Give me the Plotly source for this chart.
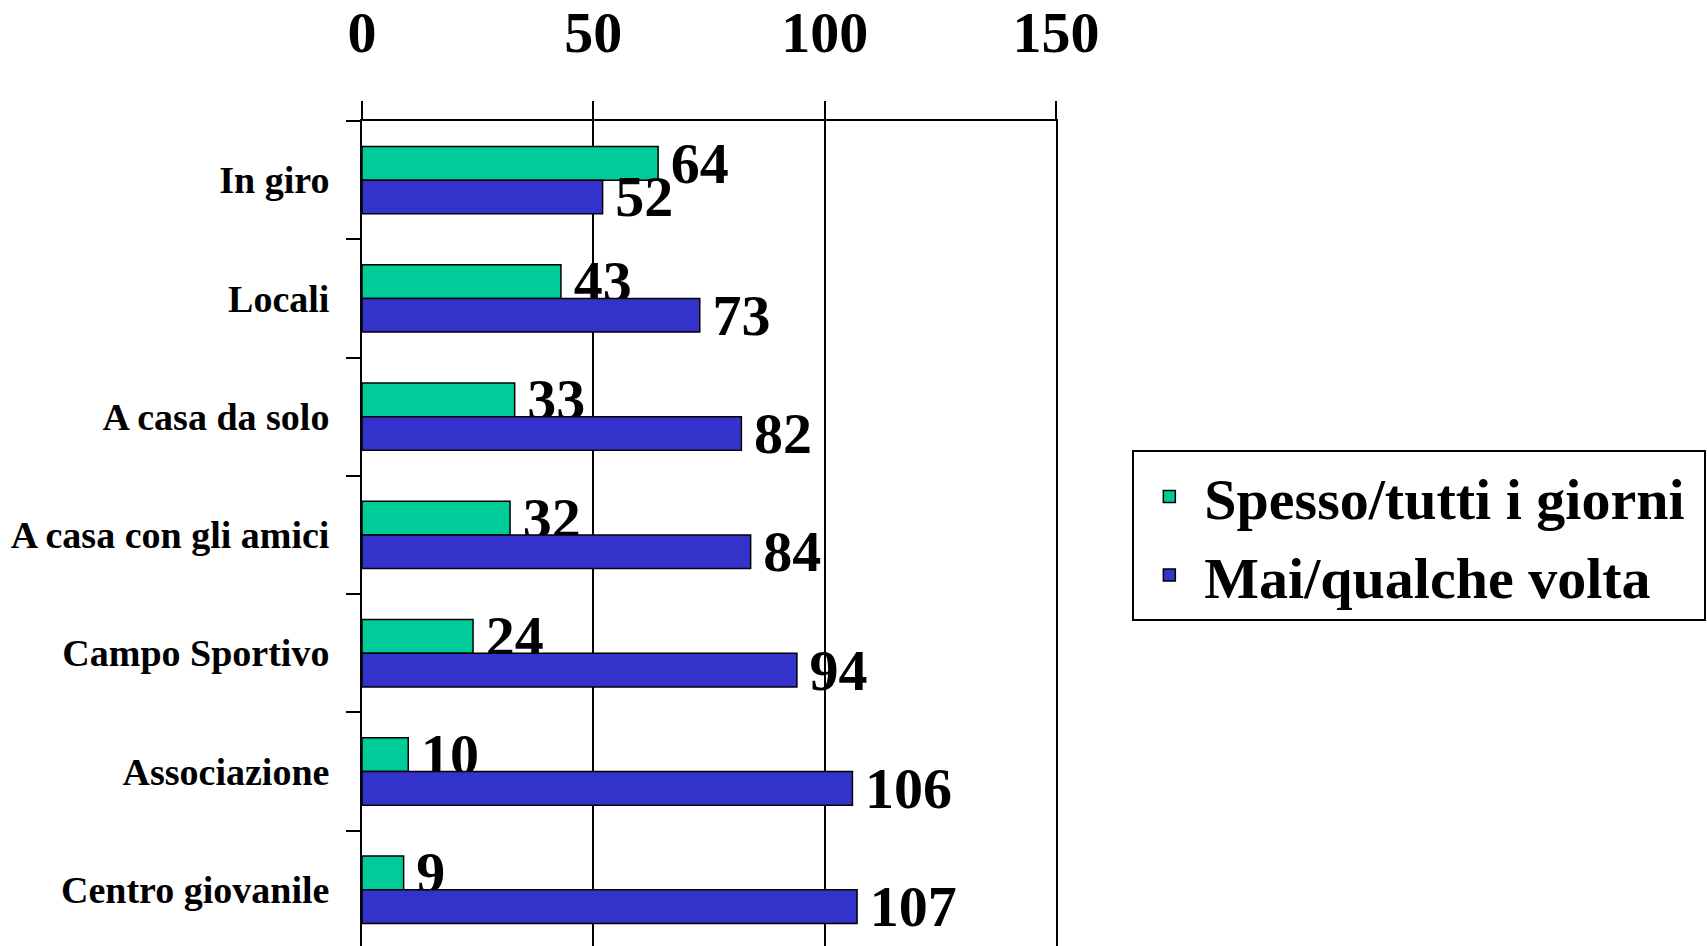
import plotly.graph_objects as go

categories = ["In giro", "Locali", "A casa da solo", "A casa con gli amici",
              "Campo Sportivo", "Associazione", "Centro giovanile"]
spesso = [64, 43, 33, 32, 24, 10, 9]
mai = [52, 73, 82, 84, 94, 106, 107]
series_names = ["Spesso/tutti i giorni", "Mai/qualche volta"]
x_ticks = [0, 50, 100, 150]

FONT = "Liberation Serif"
GREEN = "#00CC99"
BLUE = "#3333CC"

fig = go.Figure()
for name, vals, col in [(series_names[0], spesso, GREEN), (series_names[1], mai, BLUE)]:
    fig.add_trace(go.Bar(
        y=categories, x=vals, name=name + "\u00a0", orientation="h",
        marker=dict(color=col, line=dict(color="black", width=1.5)),
        text=vals, texttemplate="\u200A\u200A%{x}",
        textposition="outside",
        constraintext="none", cliponaxis=False,
        textfont=dict(family=FONT, size=58, color="black", weight="bold"),
    ))

fig.update_layout(
    width=1707, height=946,
    margin=dict(l=362, r=651, t=121, b=0, pad=0),
    plot_bgcolor="white", paper_bgcolor="white",
    barmode="group", bargap=0.43, bargroupgap=0,
    font=dict(family=FONT, color="black"),
    legend=dict(
        x=1.110, y=0.6007, xanchor="left", yanchor="top",
        bgcolor="white", bordercolor="black", borderwidth=2,
        font=dict(family=FONT, size=58, color="black", weight="bold"),
        traceorder="normal", itemwidth=60,
    ),
    xaxis=dict(
        side="top", range=[0, 150], tickvals=x_ticks, automargin=False,
        showgrid=True, gridcolor="black", gridwidth=2,
        zeroline=False, showline=True, linecolor="black", linewidth=2,
        ticks="outside", ticklen=18, tickwidth=2, tickcolor="black",
        tickfont=dict(family=FONT, size=58, color="black", weight="bold"),
        ticklabelstandoff=26,
    ),
    yaxis=dict(
        autorange=False, range=[6.476, -0.5], automargin=False,
        showgrid=False, zeroline=False, showline=True, mirror=True,
        linecolor="black", linewidth=2,
        ticks="outside", tickson="boundaries", ticklen=14, tickwidth=2, tickcolor="black",
        tickfont=dict(family=FONT, size=38, color="black", weight="bold"),
        ticklabelstandoff=23,
    ),
)

fig.write_html("out.html")
